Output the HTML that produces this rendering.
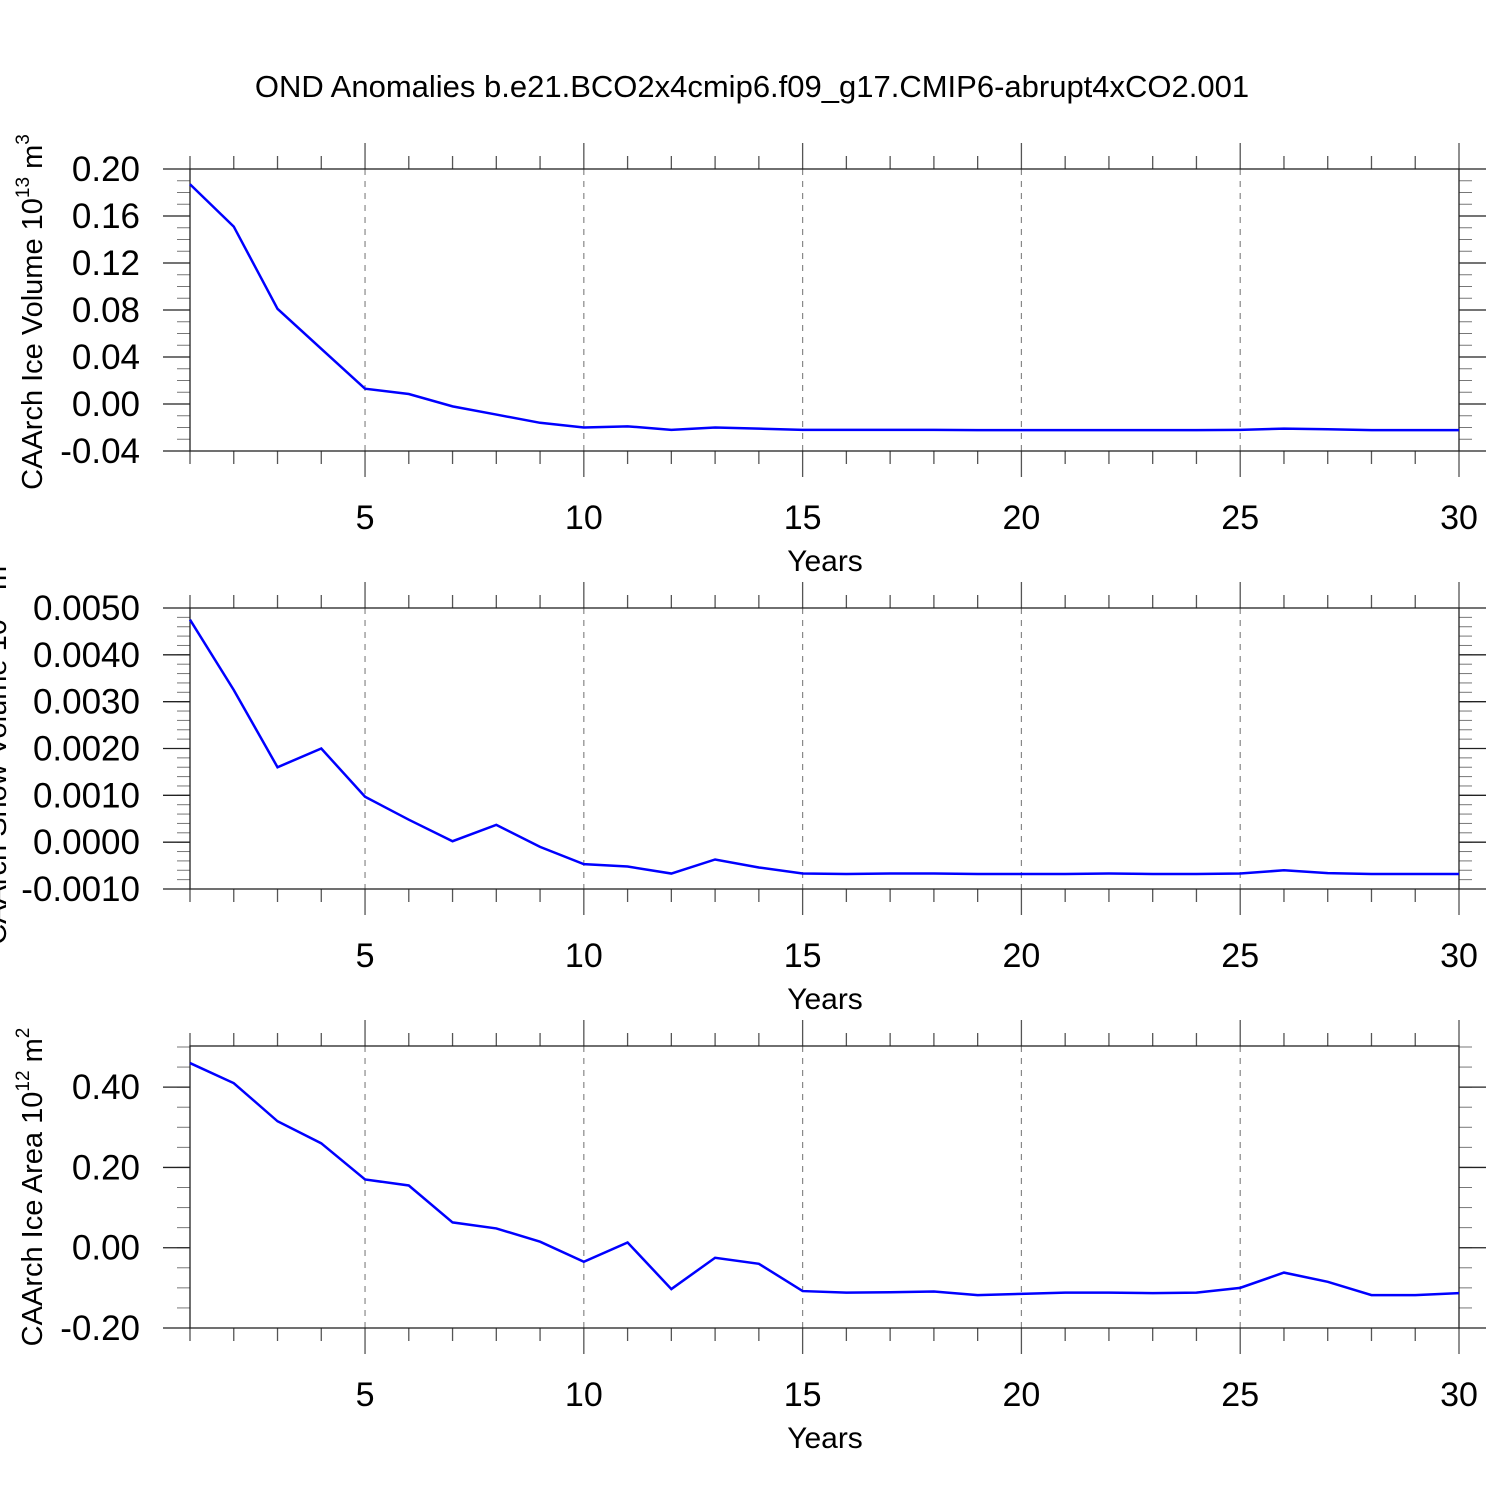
<!DOCTYPE html>
<html><head><meta charset="utf-8"><style>
html,body{margin:0;padding:0;background:#fff;width:1500px;height:1500px;overflow:hidden}
svg text{font-family:"Liberation Sans",Arial,sans-serif;fill:#000}
</style></head><body>
<svg id="chart" width="1500" height="1500" xmlns="http://www.w3.org/2000/svg">
<text x="752" y="97" font-size="31" text-anchor="middle">OND Anomalies b.e21.BCO2x4cmip6.f09_g17.CMIP6-abrupt4xCO2.001</text>
</svg>
<script>
const years = Array.from({length:30},(_,i)=>i+1);
const iceVolume = [0.187,0.151,0.081,0.047,0.013,0.0085,-0.002,-0.009,-0.016,-0.020,-0.019,-0.022,-0.020,-0.021,-0.022,-0.022,-0.022,-0.022,-0.0222,-0.0222,-0.0222,-0.0222,-0.0222,-0.0222,-0.022,-0.021,-0.0215,-0.0222,-0.0222,-0.0222];
const snowVolume = [0.00475,0.00325,0.0016,0.0020,0.00097,0.00048,0.00002,0.00037,-0.0001,-0.00047,-0.00052,-0.00067,-0.00037,-0.00054,-0.00067,-0.00068,-0.00067,-0.00067,-0.00068,-0.00068,-0.00068,-0.00067,-0.00068,-0.00068,-0.00067,-0.0006,-0.00066,-0.00068,-0.00068,-0.00068];
const iceArea = [0.46,0.41,0.315,0.26,0.17,0.155,0.063,0.048,0.015,-0.035,0.013,-0.103,-0.025,-0.04,-0.108,-0.112,-0.111,-0.109,-0.118,-0.115,-0.112,-0.112,-0.113,-0.112,-0.1,-0.062,-0.085,-0.118,-0.118,-0.113];
const xTicks = [5,10,15,20,25,30];
const volTicks = ["0.20","0.16","0.12","0.08","0.04","0.00","-0.04"];
const snowTicks = ["0.0050","0.0040","0.0030","0.0020","0.0010","0.0000","-0.0010"];
const areaTicks = ["0.40","0.20","0.00","-0.20"];

const svg=document.getElementById('chart');
const NS="http://www.w3.org/2000/svg";
function mk(tag,attrs,parent){const e=document.createElementNS(NS,tag);for(const k in attrs)e.setAttribute(k,attrs[k]);(parent||svg).appendChild(e);return e;}
const X0=190,X1=1459;
const xs=v=>X0+(v-1)*(X1-X0)/29;

function panel(name,top,bot,ymin,ymax,ticks,minorStep,data,label,sup1,sup2,labelX,labelY){
  const g=mk('g',{});
  
  
  const ys=v=>bot-(v-ymin)*(bot-top)/(ymax-ymin);
  xTicks.forEach(t=>{if(t<30){const l=mk('line',{x1:xs(t),x2:xs(t),y1:top,y2:bot,stroke:'#888','stroke-width':1.2,'stroke-dasharray':'6,6'},g);
    }});
  for(let t=1;t<=30;t++){const maj=t%5===0;const L=maj?26:13;
    mk('line',{x1:xs(t),x2:xs(t),y1:top-L,y2:top,stroke:'#555','stroke-width':1.3},g);
    mk('line',{x1:xs(t),x2:xs(t),y1:bot,y2:bot+L,stroke:'#555','stroke-width':1.3},g);}
  xTicks.forEach(t=>{const tx=mk('text',{x:xs(t),y:bot+78,'font-size':34,'text-anchor':'middle'},g);tx.textContent=t;
    });
  const xt=mk('text',{x:825,y:bot+120,'font-size':30,'text-anchor':'middle'},g);xt.textContent='Years';
  
  for(let v=ymin;v<=ymax+1e-12;v+=minorStep){const y=ys(v);
    mk('line',{x1:X0-13,x2:X0,y1:y,y2:y,stroke:'#777','stroke-width':1},g);
    mk('line',{x1:X1,x2:X1+13,y1:y,y2:y,stroke:'#777','stroke-width':1},g);}
  ticks.forEach(s=>{const v=parseFloat(s),y=ys(v);
    mk('line',{x1:X0-27,x2:X0,y1:y,y2:y,stroke:'#222','stroke-width':1.3},g);
    mk('line',{x1:X1,x2:X1+27,y1:y,y2:y,stroke:'#222','stroke-width':1.3},g);
    const tx=mk('text',{x:140,y:y+12,'font-size':35,'text-anchor':'end'},g);tx.textContent=s;
    });
  mk('rect',{x:X0,y:top,width:X1-X0,height:bot-top,fill:'none',stroke:'#222','stroke-width':1.3},g);
  const p=mk('polyline',{points:data.map((v,i)=>xs(years[i])+','+ys(v)).join(' '),fill:'none',stroke:'#0000ff','stroke-width':2.5},g);
  
  const yt=mk('text',{transform:`translate(${labelX},${labelY}) rotate(-90)`,'font-size':29,'text-anchor':'middle'},g);
  
  yt.innerHTML=label+' 10<tspan dy="-13" font-size="19">'+sup1+'</tspan><tspan dy="13"> m</tspan><tspan dy="-13" font-size="19">'+sup2+'</tspan>';
}
panel('ice-volume',169,451,-0.04,0.20,volTicks,0.01,iceVolume,'CAArch Ice Volume','13','3',42,312);
panel('snow-volume',608,889,-0.001,0.005,snowTicks,0.0002,snowVolume,'CAArch Snow Volume','13','3',6,750);
panel('ice-area',1046,1328,-0.2,0.5025,areaTicks,0.05,iceArea,'CAArch Ice Area','12','2',42,1187);
</script>
</body></html>
